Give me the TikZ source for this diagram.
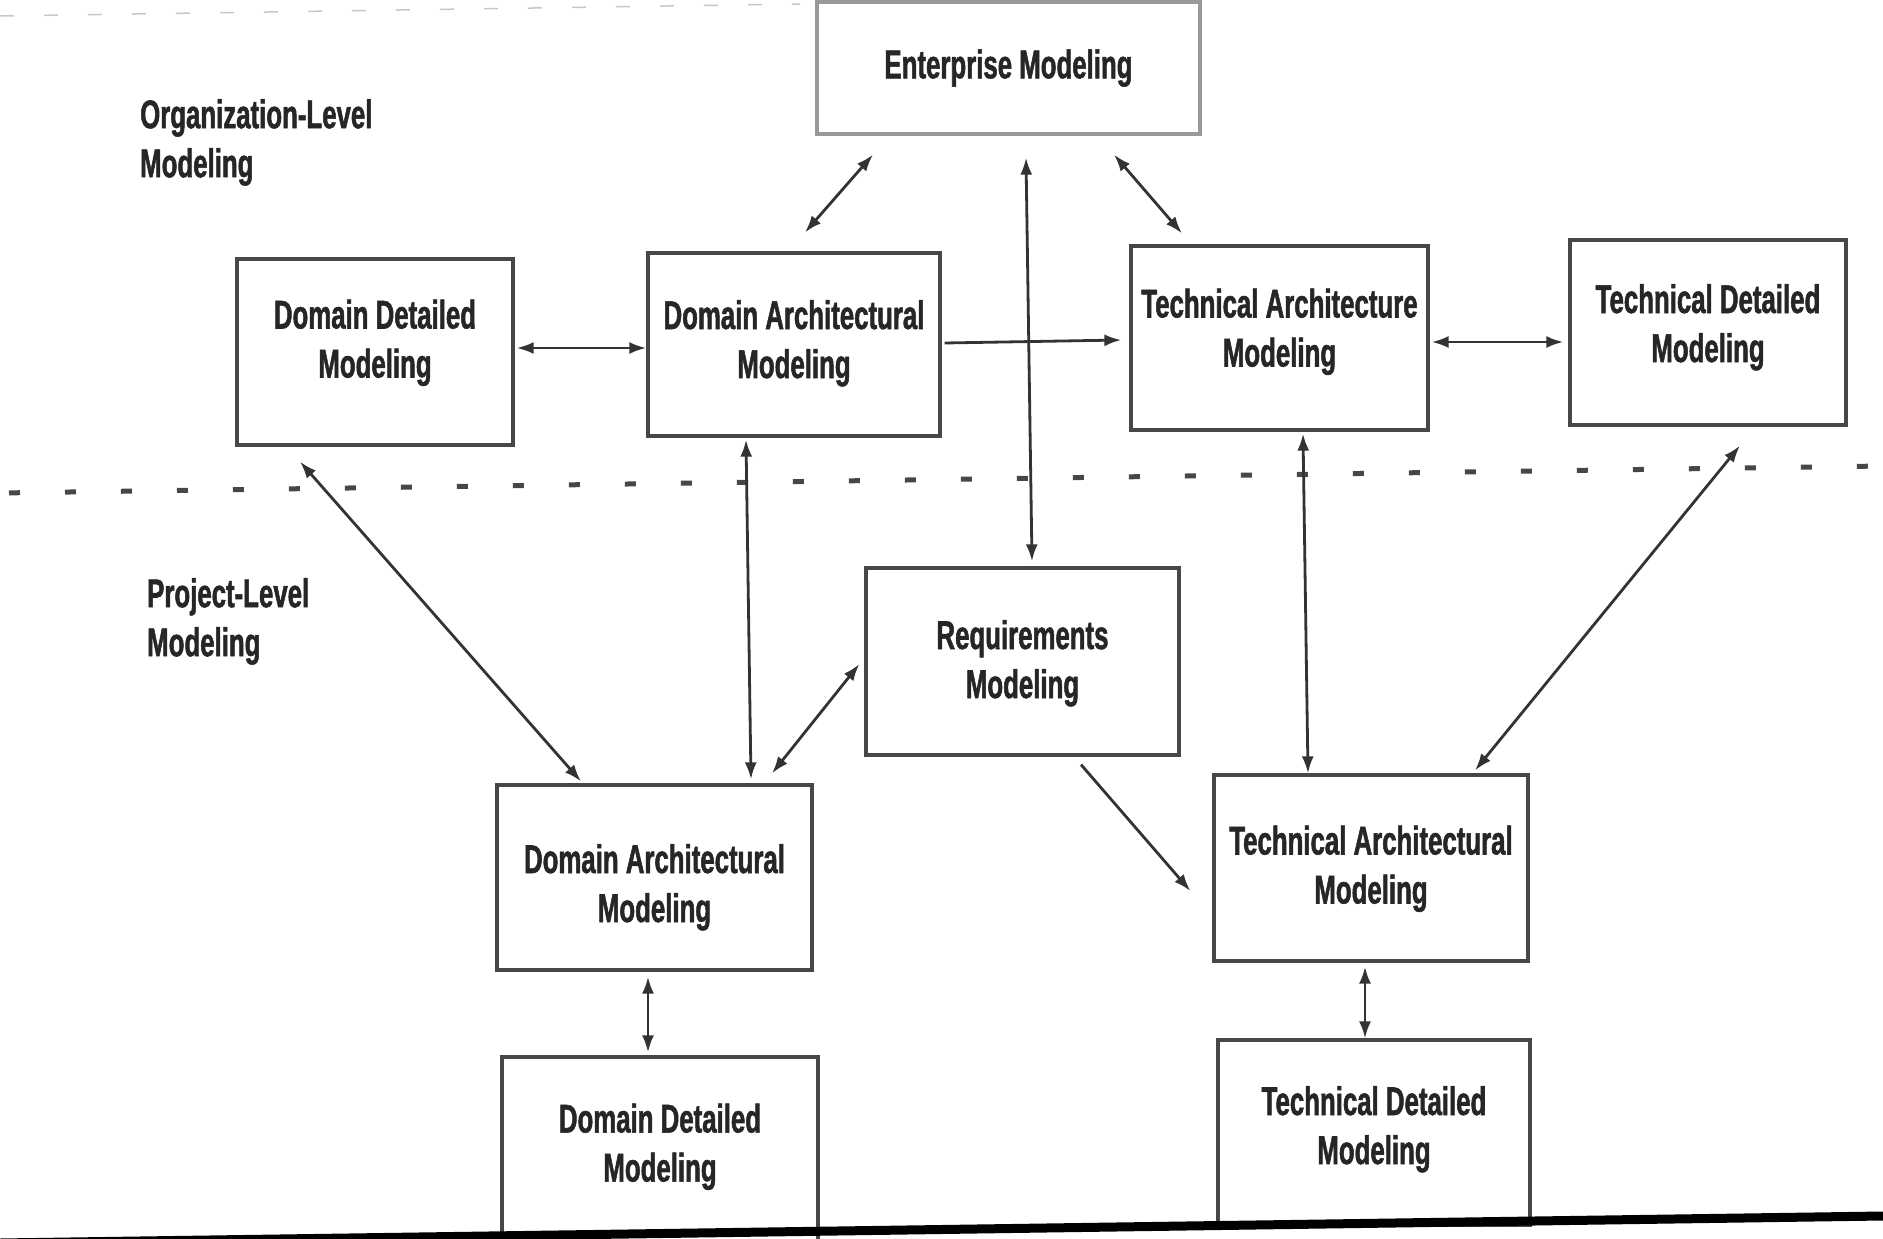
\documentclass[tikz,border=0pt]{standalone}
\usepackage{fontspec}
\newfontfamily\lblfont{Liberation Sans}[FakeStretch=0.645, BoldFeatures={FakeBold=1.3}]
\usetikzlibrary{arrows.meta,calc}

% two centred lines, moved up by #1 (pt) inside their box
\newcommand\boxlines[3]{\raisebox{#1pt}[36pt][57pt]{\begin{tabular}[t]{@{}c@{}}#2\\#3\end{tabular}}}

\begin{document}
\begin{tikzpicture}[x=1pt,y=-1pt,
  txt/.style={font=\lblfont\bfseries\fontsize{40}{49}\selectfont, text=black!85},
  box/.style 2 args={draw=black!72, line width=3.2pt, minimum width=#1pt,
    minimum height=#2pt, inner sep=0pt, align=center, txt},
  link/.style={draw=black!80, line width=2.8pt},
  both/.style={link, {Latex[length=17pt,width=12pt]}-{Latex[length=17pt,width=12pt]}},
  fwd/.style={link, -{Latex[length=17pt,width=12pt]}},
  level/.style={txt, align=left, anchor=north west, inner sep=0pt}]

\useasboundingbox (0,0) rectangle (1883,1239);

% faint scan edge along the top
\draw[black!22, line width=1.5pt, dash pattern=on 14pt off 30pt] (0,16) -- (800,4);

% level labels
\node[level] (orglbl) at (140,99) {Organization-Level\\Modeling};
\node[level] (prjlbl) at (147,578) {Project-Level\\Modeling};

% boundary between organization and project level
\draw[black!72, line width=5pt, dash pattern=on 11pt off 45pt, dash phase=-9pt]
  (0,493) -- (1883,466);

% organization level
\node[box={383}{132}, draw=black!40] (ent) at (1008.5,68) {Enterprise Modeling};
\node[box={276}{186}] (dd1) at (375,352) {\boxlines{13}{Domain Detailed}{Modeling}};
\node[box={292}{183}] (da1) at (794,344.5) {\boxlines{5}{Domain Architectural}{Modeling}};
\node[box={297}{184}] (ta1) at (1279.5,338) {\boxlines{10}{Technical Architecture}{Modeling}};
\node[box={276}{185}] (td1) at (1708,332.5) {\boxlines{9}{Technical Detailed}{Modeling}};

% project level
\node[box={313}{187}] (req) at (1022.5,661.5) {\boxlines{2}{Requirements}{Modeling}};
\node[box={315}{185}] (da2) at (654.5,877.5) {\boxlines{-6}{Domain Architectural}{Modeling}};
\node[box={314}{186}] (ta2) at (1371,868) {\boxlines{3}{Technical Architectural}{Modeling}};
\node[box={316}{188}] (dd2) at (660,1151) {\boxlines{8}{Domain Detailed}{Modeling}};
\node[box={312}{185}] (td2) at (1374,1132.5) {\boxlines{7}{Technical Detailed}{Modeling}};

% connectors
\draw[both] ($(ent.south)+(-135.5,19)$) -- ($(da1.north)+(11,-19)$);
\draw[both] ($(ent.south)+(17.5,22)$) -- ($(req.north)+(9.5,-5)$);
\draw[both] ($(ent.south)+(105.5,19)$) -- ($(ta1.north)+(-97.5,-11)$);
\draw[both] ($(dd1.east)+(2,-4)$) -- ($(da1.west)+(0,3.5)$);
\draw[fwd]  ($(da1.east)+(3,-1.5)$) -- ($(ta1.west)+(-8,2)$);
\draw[both] ($(ta1.east)+(2,4)$) -- ($(td1.west)+(-5,9.5)$);
\draw[both] ($(dd1.south)+(-75,15)$) -- ($(da2.north)+(-73.5,-2)$);
\draw[both] ($(da1.south)+(-48,2)$) -- ($(da2.north)+(96.5,-4)$);
\draw[both] ($(req.west)+(-5,2.5)$) -- ($(da2.north)+(117.5,-10)$);
\draw[fwd]  ($(req.south)+(58.5,8)$) -- ($(ta2.west)+(-22,23)$);
\draw[both] ($(ta1.south)+(23.5,2)$) -- ($(ta2.north)+(-63,0)$);
\draw[both] ($(td1.south)+(32,19)$) -- ($(ta2.north)+(104,-3)$);
\draw[both] ($(da2.south)+(-6.5,5)$) -- ($(dd2.north)+(-12,-3)$);
\draw[both] ($(ta2.south)+(-6,4)$) -- ($(td2.north)+(-9,0)$);

% dark edge of the page along the bottom
\draw[black, line width=9pt] (0,1243) -- (1883,1216);
\end{tikzpicture}
\end{document}
